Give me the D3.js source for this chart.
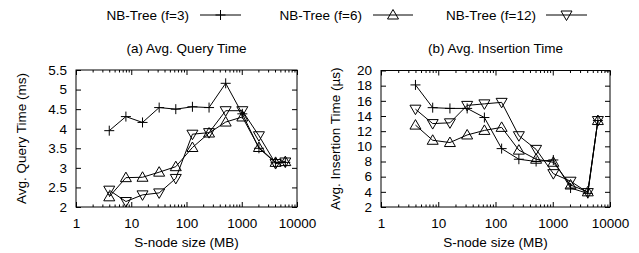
<!DOCTYPE html>
<html><head><meta charset="utf-8">
<script src="https://cdn.jsdelivr.net/npm/d3@7"></script>
<style>
html,body{margin:0;padding:0;background:#fff;}
svg{display:block;font-family:"Liberation Sans",Arial,Helvetica,sans-serif;}
</style></head>
<body>
<svg id="c" width="639" height="253"></svg>
<script>
const sizes = [4, 8, 16, 32, 64, 128, 256, 512, 1024, 2048, 4096, 6144];
const seriesNames = ["NB-Tree (f=3)", "NB-Tree (f=6)", "NB-Tree (f=12)"];
const markerTypes = ["plus", "up", "down"];
// (a) Avg. Query Time (ms)
const queryF3  = [3.95, 4.31, 4.16, 4.54, 4.50, 4.56, 4.54, 5.16, 4.38, 3.50, 3.13, 3.14];
const queryF6  = [2.26, 2.75, 2.76, 2.89, 3.03, 3.52, 3.89, 4.17, 4.30, 3.52, 3.14, 3.16];
const queryF12 = [2.43, 2.14, 2.31, 2.36, 2.73, 3.86, 3.90, 4.46, 4.46, 3.82, 3.11, 3.15];
// (b) Avg. Insertion Time (us)
const insF3  = [18.1, 15.1, 15.0, 15.0, 13.8, 9.7, 8.3, 8.0, 8.2, 4.5, 3.8, 13.4];
const insF6  = [12.8, 10.8, 10.5, 11.5, 12.1, 12.5, 9.5, 8.3, 7.9, 4.9, 4.0, 13.4];
const insF12 = [14.9, 13.0, 13.1, 15.4, 15.6, 15.8, 11.4, 9.6, 6.4, 5.4, 3.9, 13.4];
const xTicks = [1, 10, 100, 1000, 10000];
const queryTicks = [2, 2.5, 3, 3.5, 4, 4.5, 5, 5.5];
const insTicks = [2, 4, 6, 8, 10, 12, 14, 16, 18, 20];
const titles = ["(a) Avg. Query Time", "(b) Avg. Insertion Time"];
const yTitles = ["Avg. Query Time (ms)", "Avg. Insertion Time (\u00b5s)"];
const xTitle = "S-node size (MB)";

const svg = d3.select("#c");
const FS = 13.5;

function marker(sel, type, cx, cy) {
  if (type === "plus") {
    sel.append("path").attr("d", `M${cx-5},${cy}H${cx+5}M${cx},${cy-5}V${cy+5}`)
      .attr("stroke", "#000").attr("stroke-width", 1).attr("fill", "none");
  } else if (type === "up") {
    sel.append("path").attr("d", `M${cx-5.5},${cy+4}L${cx+5.5},${cy+4}L${cx},${cy-5.5}Z`)
      .attr("stroke", "#000").attr("stroke-width", 1).attr("fill", "none");
  } else {
    sel.append("path").attr("d", `M${cx-5.5},${cy-4}L${cx+5.5},${cy-4}L${cx},${cy+5.5}Z`)
      .attr("stroke", "#000").attr("stroke-width", 1).attr("fill", "none");
  }
}

function panel(cfg) {
  const {x0, x1, y0, y1, yDomain, yTicks, series, title, yTitle, yFmt, yTitleX} = cfg;
  const x = d3.scaleLog().domain([1, 10000]).range([x0, x1]);
  const y = d3.scaleLinear().domain(yDomain).range([y1, y0]);
  const g = svg.append("g");
  const minor = [];
  for (let d = 1; d < 10000; d *= 10) for (let k = 2; k <= 9; k++) minor.push(d * k);

  // bottom axis
  g.append("g").attr("transform", `translate(0,${y1})`)
    .call(d3.axisBottom(x).tickValues(xTicks).tickFormat(d3.format("d")).tickSize(-5).tickPadding(11))
    .call(a => a.select(".domain").remove());
  g.append("g").attr("transform", `translate(0,${y1})`)
    .call(d3.axisBottom(x).tickValues(minor).tickFormat("").tickSize(-2.5))
    .call(a => a.select(".domain").remove());
  // top mirror
  g.append("g").attr("transform", `translate(0,${y0})`)
    .call(d3.axisTop(x).tickValues(xTicks).tickFormat("").tickSize(-5))
    .call(a => a.select(".domain").remove());
  g.append("g").attr("transform", `translate(0,${y0})`)
    .call(d3.axisTop(x).tickValues(minor).tickFormat("").tickSize(-2.5))
    .call(a => a.select(".domain").remove());
  // left axis
  g.append("g").attr("transform", `translate(${x0},0)`)
    .call(d3.axisLeft(y).tickValues(yTicks).tickFormat(yFmt).tickSize(-5).tickPadding(9))
    .call(a => a.select(".domain").remove());
  // right mirror
  g.append("g").attr("transform", `translate(${x1},0)`)
    .call(d3.axisRight(y).tickValues(yTicks).tickFormat("").tickSize(-5))
    .call(a => a.select(".domain").remove());

  g.selectAll(".tick text").attr("font-size", FS).attr("fill", "#000")
    .attr("font-family", '"Liberation Sans",Arial,sans-serif');
  g.selectAll(".tick line").attr("stroke", "#000");

  // frame
  g.append("rect").attr("x", x0).attr("y", y0).attr("width", x1 - x0).attr("height", y1 - y0)
    .attr("fill", "none").attr("stroke", "#000").attr("stroke-width", 1);

  // series
  const line = d3.line().x((d, i) => x(sizes[i])).y(d => y(d));
  series.forEach((vals, si) => {
    g.append("path").datum(vals).attr("d", line).attr("fill", "none")
      .attr("stroke", "#000").attr("stroke-width", 1);
    const mg = g.append("g");
    vals.forEach((v, i) => marker(mg, markerTypes[si], x(sizes[i]), y(v)));
  });

  // titles
  g.append("text").attr("x", (x0 + x1) / 2).attr("y", 48).attr("dy", "0.35em")
    .attr("text-anchor", "middle").attr("font-size", FS).text(title);
  g.append("text").attr("x", (x0 + x1) / 2).attr("y", 242).attr("dy", "0.35em")
    .attr("text-anchor", "middle").attr("font-size", FS).text(xTitle);
  g.append("text").attr("transform", `translate(${yTitleX},${(y0 + y1) / 2}) rotate(-90)`)
    .attr("dy", "0.35em").attr("text-anchor", "middle").attr("font-size", FS).text(yTitle);
}

panel({x0: 76, x1: 297, y0: 70, y1: 207, yDomain: [2, 5.5], yTicks: queryTicks,
  series: [queryF3, queryF6, queryF12], title: titles[0], yTitle: yTitles[0],
  yFmt: d3.format("~g"), yTitleX: 21});
panel({x0: 381, x1: 610, y0: 70.5, y1: 207, yDomain: [2, 20], yTicks: insTicks,
  series: [insF3, insF6, insF12], title: titles[1], yTitle: yTitles[1],
  yFmt: d3.format("d"), yTitleX: 335});

// legend
const legendPos = [{tx: 189, l0: 200, l1: 241}, {tx: 362, l0: 373, l1: 413}, {tx: 536, l0: 546, l1: 587}];
const lg = svg.append("g");
seriesNames.forEach((n, i) => {
  const p = legendPos[i];
  lg.append("text").attr("x", p.tx).attr("y", 15).attr("dy", "0.35em")
    .attr("text-anchor", "end").attr("font-size", FS).text(n);
  lg.append("line").attr("x1", p.l0).attr("x2", p.l1).attr("y1", 15).attr("y2", 15)
    .attr("stroke", "#000").attr("stroke-width", 1);
  marker(lg, markerTypes[i], (p.l0 + p.l1) / 2, 15);
});
</script>
</body></html>
